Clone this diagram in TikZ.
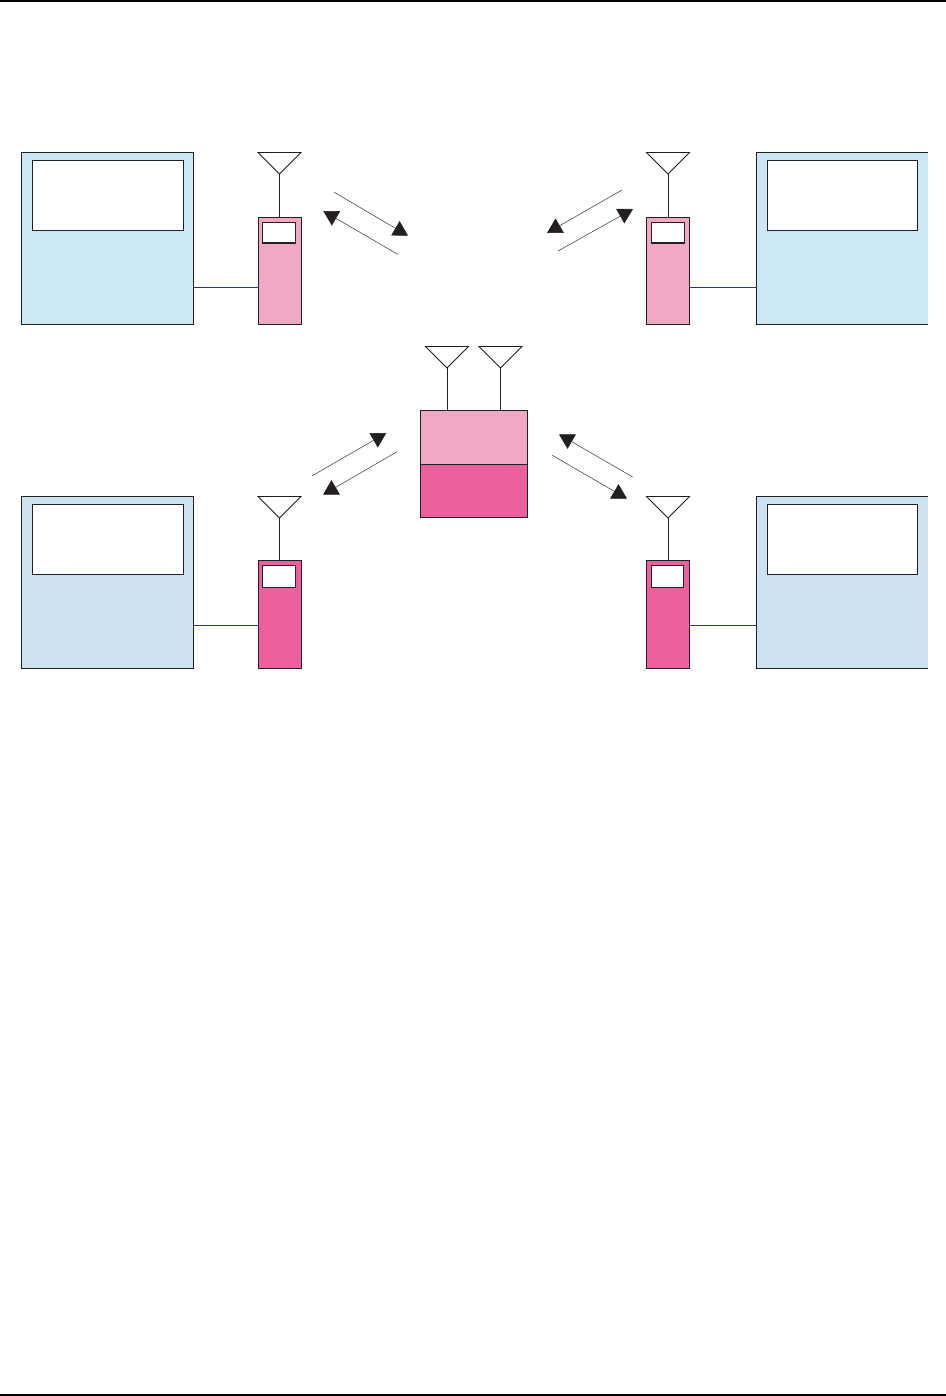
\documentclass[tikz,border=0pt]{standalone}
\usetikzlibrary{arrows.meta}
\definecolor{ink}{HTML}{231F20}
\definecolor{navy}{HTML}{2E3192}
\definecolor{skyA}{HTML}{CBE8F4}
\definecolor{skyB}{HTML}{CCE2F0}
\definecolor{pinkA}{HTML}{F0A9C5}
\definecolor{pinkB}{HTML}{EC619D}
\tikzset{
  rectbox/.style={draw=ink,line width=0.8pt,rectangle,inner sep=0pt,outer sep=0pt},
  nodraw/.style={draw=none},
  stem/.style={draw=ink,line width=0.7pt},
  link/.style={draw=navy,line width=0.6pt},
  aerial/.style={draw=ink,line width=0.55pt,line join=miter},
  signal/.style={draw=ink!80,line width=0.45pt,-{Triangle[length=11pt,width=12.4pt,color=ink]},shorten >=0pt},
  rule/.style={draw=black,line width=1.5pt}
}
% name, x0, y0, x1, y1, style (coordinates in reference pixels)
\newcommand{\pixbox}[6]{%
  \pgfmathsetmacro{\bxw}{(#4-#2)*0.75}%
  \pgfmathsetmacro{\bxh}{(#5-#3)*0.75}%
  \node[rectbox,#6,minimum width=\bxw pt,minimum height=\bxh pt] (#1) at ({(#2+#4)/2},{(#3+#5)/2}) {};%
}
% name, tip x, top y
\newcommand{\pixaerial}[3]{%
  \coordinate (#1) at (#2,#3+21.5);%
  \coordinate (#1L) at (#2-21.5,#3);%
  \coordinate (#1R) at (#2+21.5,#3);%
  \draw[aerial] (#1L) -- (#1R) -- (#1) -- cycle;%
}
\begin{document}
\begin{tikzpicture}[x=0.75pt,y=-0.75pt]
\useasboundingbox (0,0) rectangle (946,1396);
% page rules
\coordinate (ruleTL) at (0,1); \coordinate (ruleTR) at (946,1);
\coordinate (ruleBL) at (0,1395); \coordinate (ruleBR) at (946,1395);
\draw[rule] (ruleTL) -- (ruleTR);
\draw[rule] (ruleBL) -- (ruleBR);

% top left station
\pixbox{pcA}{21.5}{152.5}{193.5}{324.5}{fill=skyA}
\pixbox{scrA}{32.5}{160.5}{183.5}{230.5}{fill=white}
\pixbox{radA}{258.5}{217.5}{301.5}{324.5}{fill=pinkA}
\pixbox{winA}{262.5}{222.5}{295.5}{243}{fill=white}
\pixaerial{antA}{279.5}{152.5}
\draw[stem] (antA) -- (antA |- radA.north);
\coordinate (lkA) at (193.5,287);
\draw[link] (pcA.east |- lkA) -- (radA.west |- lkA);

% top right station
\pixbox{pcB}{756.5}{152.5}{928}{324.5}{fill=skyA,nodraw}
\draw[rectbox] (pcB.north east) -- (pcB.north west) -- (pcB.south west) -- (pcB.south east);
\pixbox{scrB}{767.5}{160.5}{917.5}{230.5}{fill=white}
\pixbox{radB}{646.5}{217.5}{689.5}{324.5}{fill=pinkA}
\pixbox{winB}{651.5}{222.5}{684.5}{243}{fill=white}
\pixaerial{antB}{668}{152.5}
\draw[stem] (antB) -- (antB |- radB.north);
\coordinate (lkB) at (700,287);
\draw[link] (radB.east |- lkB) -- (pcB.west |- lkB);

% bottom left station
\pixbox{pcC}{21.5}{496.5}{193.5}{668.5}{fill=skyB}
\pixbox{scrC}{32.5}{504.5}{183.5}{574.5}{fill=white}
\pixbox{radC}{258.5}{560.5}{301.5}{668.5}{fill=pinkB}
\pixbox{winC}{262.5}{565.5}{295.5}{587.5}{fill=white}
\pixaerial{antC}{279.5}{496.5}
\draw[stem] (antC) -- (antC |- radC.north);
\coordinate (lkC) at (193.5,625);
\draw[link] (pcC.east |- lkC) -- (radC.west |- lkC);

% bottom right station
\pixbox{pcD}{756.5}{496.5}{928}{668.5}{fill=skyB,nodraw}
\draw[rectbox] (pcD.north east) -- (pcD.north west) -- (pcD.south west) -- (pcD.south east);
\pixbox{scrD}{767.5}{504.5}{917.5}{574.5}{fill=white}
\pixbox{radD}{646.5}{560.5}{689.5}{668.5}{fill=pinkB}
\pixbox{winD}{651.5}{565.5}{683.5}{587.5}{fill=white}
\pixaerial{antD}{668}{496.5}
\draw[stem] (antD) -- (antD |- radD.north);
\coordinate (lkD) at (700,625);
\draw[link] (radD.east |- lkD) -- (pcD.west |- lkD);

% centre unit
\pixbox{hubU}{420.5}{410.5}{527.5}{464.5}{fill=pinkA}
\pixbox{hubL}{420.5}{464.5}{527.5}{517.5}{fill=pinkB}
\pixaerial{antE}{447}{346.5}
\pixaerial{antF}{500.5}{346.5}
\draw[stem] (antE) -- (antE |- hubU.north);
\draw[stem] (antF) -- (antF |- hubU.north);

% signal arrows
\coordinate (a1) at (334.3,192.3); \coordinate (a2) at (408,235.7);
\coordinate (a3) at (397.7,254.3); \coordinate (a4) at (323.3,211);
\coordinate (b1) at (622,190);     \coordinate (b2) at (547,233);
\coordinate (b3) at (558,251);     \coordinate (b4) at (633,209);
\coordinate (c1) at (312.3,475.7); \coordinate (c2) at (386.3,433);
\coordinate (c3) at (397,451.7);   \coordinate (c4) at (323,494.7);
\coordinate (d1) at (632.7,477);   \coordinate (d2) at (559,434.3);
\coordinate (d3) at (552.3,455.3); \coordinate (d4) at (627,498.7);
\draw[signal] (a1) -- (a2);
\draw[signal] (a3) -- (a4);
\draw[signal] (b1) -- (b2);
\draw[signal] (b3) -- (b4);
\draw[signal] (c1) -- (c2);
\draw[signal] (c3) -- (c4);
\draw[signal] (d1) -- (d2);
\draw[signal] (d3) -- (d4);
\end{tikzpicture}
\end{document}
